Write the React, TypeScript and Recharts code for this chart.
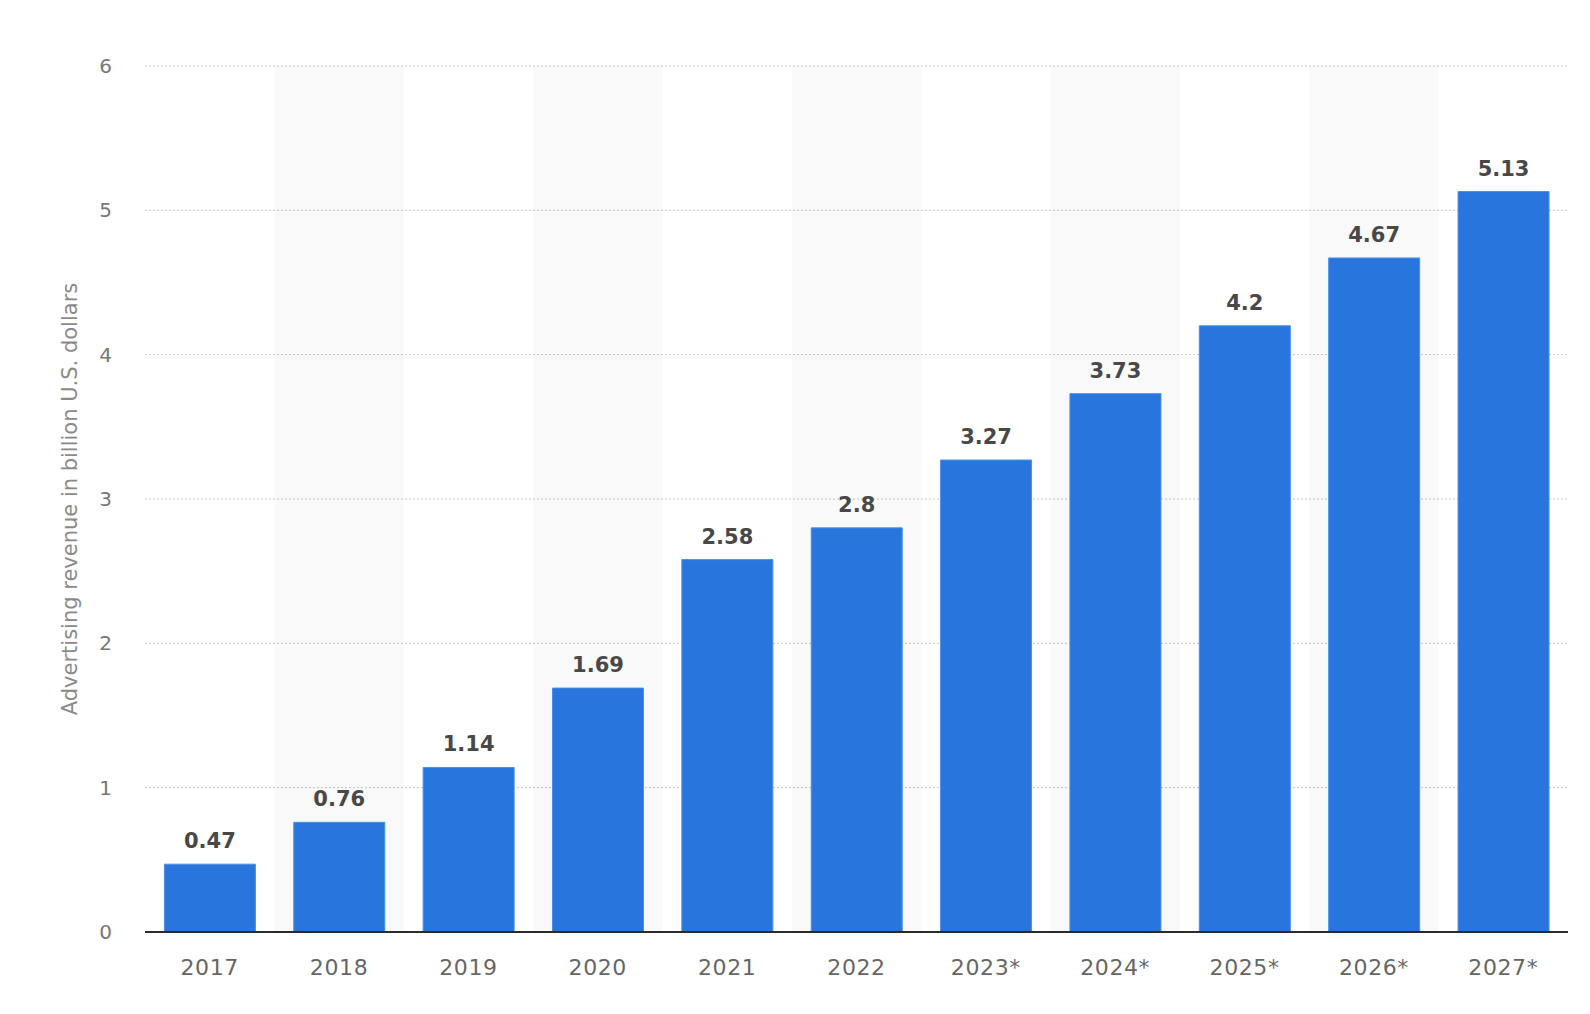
import React from 'react';
import { BarChart, Bar, XAxis, YAxis, CartesianGrid, ReferenceArea, LabelList } from 'recharts';

const years = ['2017', '2018', '2019', '2020', '2021', '2022', '2023*', '2024*', '2025*', '2026*', '2027*'];
const revenue = [0.47, 0.76, 1.14, 1.69, 2.58, 2.8, 3.27, 3.73, 4.2, 4.67, 5.13];
const yTicks = [0, 1, 2, 3, 4, 5, 6];

const data = years.map((year, i) => ({ year, revenue: revenue[i] }));
// every second column gets the light grey band
const shadedYears = years.filter((_, i) => i % 2 === 1);

const FONT = 'DejaVu Sans';

const App: React.FC = () => {
  return (
    <div style={{ position: 'absolute', left: 0, top: 0, background: '#fff' }}>
      <BarChart
        width={1590}
        height={1014}
        data={data}
        margin={{ top: 66, right: 22, left: 0, bottom: 52 }}
        barCategoryGap="15%"
      >
        {shadedYears.map((y) => (
          <ReferenceArea key={y} x1={y} x2={y} y1={0} y2={6} fill="#000" fillOpacity={0.025} stroke="none" />
        ))}
        <CartesianGrid vertical={false} stroke="#c4c4c4" strokeDasharray="2 2" />
        <XAxis
          dataKey="year"
          axisLine={{ stroke: '#2b2b2b', strokeWidth: 2 }}
          tickLine={false}
          tickSize={0}
          tickMargin={27}
          tick={{ fill: '#666', fontSize: 22, fontFamily: FONT, letterSpacing: 0.6 }}
          interval={0}
        />
        <YAxis
          width={145}
          domain={[0, 6]}
          ticks={yTicks}
          axisLine={false}
          tickLine={false}
          tickSize={0}
          tickMargin={33}
          tick={{ fill: '#777', fontSize: 20, fontFamily: FONT }}
          label={{
            value: 'Advertising revenue in billion U.S. dollars',
            angle: -90,
            position: 'center',
            dx: -3,
            style: { fill: '#8a8a8a', fontSize: 21, fontFamily: FONT, textAnchor: 'middle' },
          }}
        />
        <Bar dataKey="revenue" fill="#2876dd" stroke="#4a8fe6" strokeWidth={1} isAnimationActive={false}>
          <LabelList
            dataKey="revenue"
            position="top"
            offset={16}
            style={{ fill: '#484848', fontSize: 21, fontWeight: 'bold', fontFamily: FONT }}
          />
        </Bar>
      </BarChart>
    </div>
  );
};

export default App;
